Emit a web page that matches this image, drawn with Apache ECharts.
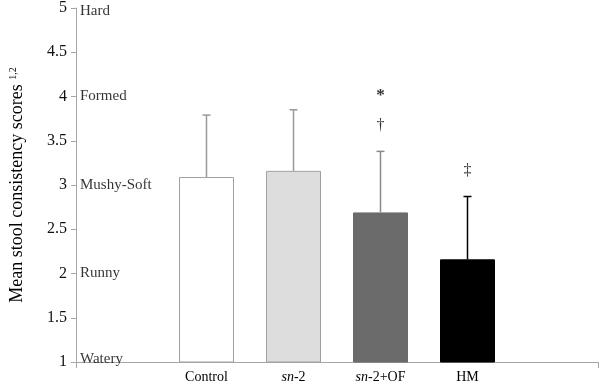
<!DOCTYPE html>
<html>
<head>
<meta charset="utf-8">
<script src="https://cdn.jsdelivr.net/npm/echarts@6/dist/echarts.min.js"></script>
<style>
  html, body { margin: 0; padding: 0; background: #fff; }
  #chart { width: 600px; height: 384px; }
</style>
</head>
<body>
<div id="chart"></div>
<script>
// groups and mean scores (+ SD, drawn upward only)
var groups = ["Control", "sn-2", "sn-2+OF", "HM"];
var means = [3.09, 3.16, 2.69, 2.16];
var sds = [0.70, 0.69, 0.69, 0.71];
var sigMarks = [[], [], ["\u2020", "*"], ["\u2021"]];

// consistency scale written next to the y axis
var levelNames = ["Watery", "Runny", "Mushy-Soft", "Formed", "Hard"];
var levelValues = [1, 2, 3, 4, 5];

var fills = ["#ffffff", "#dddddd", "#6b6b6b", "#000000"];
var whiskerColors = ["#999999", "#999999", "#8a8a8a", "#000000"];
var font = "'Liberation Serif', 'Times New Roman', serif";
var axisGrey = "#a6a6a6";

// blank slot on each side, as in the original layout
var categories = [""].concat(groups).concat([""]);

var barData = categories.map(function (c, i) {
    var k = i - 1;
    if (k < 0 || k >= groups.length) return "-";
    return {
        value: means[k],
        itemStyle: {
            color: fills[k],
            borderColor: k < 2 ? "#a0a0a0" : fills[k],
            borderWidth: 1
        }
    };
});

var errData = groups.map(function (g, k) {
    return [k + 1, means[k], means[k] + sds[k], k];
});

var levelData = levelValues.map(function (v, i) {
    var off = 0;
    if (v === 5) off = 3;
    if (v === 1) off = -3;
    return {
        value: [0, v],
        label: { offset: [0, off] }
    };
});

var chart = echarts.init(document.getElementById("chart"));

chart.setOption({
    animation: false,
    grid: { left: 73, right: 2, top: 6, bottom: 20 },
    xAxis: [{
        type: "category",
        position: "bottom",
        data: categories,
        axisLine: { show: false },
        axisTick: { show: false },
        axisLabel: {
            interval: 0,
            margin: 8,
            fontFamily: font,
            fontSize: 14,
            color: "#000",
            formatter: function (v) {
                return v.replace(/^sn/, "{i|sn}");
            },
            rich: {
                i: { fontFamily: font, fontSize: 14, fontStyle: "italic", color: "#000" }
            }
        }
    }, {
        type: "value",
        position: "bottom",
        min: 0,
        max: 6,
        interval: 6,
        axisLine: { show: true, lineStyle: { color: axisGrey, width: 1 } },
        axisTick: { show: true, length: 6, lineStyle: { color: axisGrey } },
        axisLabel: { show: false },
        splitLine: { show: false }
    }],
    yAxis: {
        type: "value",
        min: 1,
        max: 5,
        interval: 0.5,
        name: "Mean stool consistency scores {sup|1,2}",
        nameLocation: "middle",
        nameGap: 50,
        nameTextStyle: {
            fontFamily: font,
            fontSize: 18,
            color: "#000",
            rich: {
                sup: { fontFamily: font, fontSize: 10, verticalAlign: "top", color: "#000" }
            }
        },
        axisLine: { show: true, lineStyle: { color: axisGrey, width: 1 } },
        axisTick: { show: true, length: 5, lineStyle: { color: axisGrey } },
        axisLabel: {
            margin: 9,
            fontFamily: font,
            fontSize: 16,
            color: "#111"
        },
        splitLine: { show: false }
    },
    series: [{
        type: "bar",
        xAxisIndex: 0,
        barWidth: 55,
        data: barData,
        z: 2
    }, {
        type: "custom",
        xAxisIndex: 0,
        data: errData,
        z: 3,
        renderItem: function (params, api) {
            var k = api.value(3);
            var base = api.coord([api.value(0), api.value(1)]);
            var top = api.coord([api.value(0), api.value(2)]);
            var col = whiskerColors[k];
            var children = [{
                type: "line",
                shape: { x1: base[0], y1: base[1], x2: top[0], y2: top[1] },
                style: { stroke: col, lineWidth: 1.5 }
            }, {
                type: "line",
                shape: { x1: top[0] - 4, y1: top[1], x2: top[0] + 4, y2: top[1] },
                style: { stroke: col, lineWidth: 1.5 }
            }];
            sigMarks[k].forEach(function (m, j) {
                children.push({
                    type: "text",
                    style: {
                        text: m,
                        x: top[0],
                        y: top[1] - 26 - j * 30,
                        align: "center",
                        verticalAlign: "middle",
                        font: (m === "*" ? "bold 17px " : "16px ") + font,
                        fill: "#333"
                    }
                });
            });
            return { type: "group", children: children };
        }
    }, {
        type: "scatter",
        xAxisIndex: 1,
        symbolSize: 0,
        silent: true,
        data: levelData,
        label: {
            show: true,
            position: "right",
            distance: 4,
            fontFamily: font,
            fontSize: 15,
            color: "#000",
            formatter: function (p) {
                return levelNames[p.dataIndex];
            }
        },
        z: 4
    }]
});

window.addEventListener("resize", function () {
    chart.resize();
});
</script>
</body>
</html>
